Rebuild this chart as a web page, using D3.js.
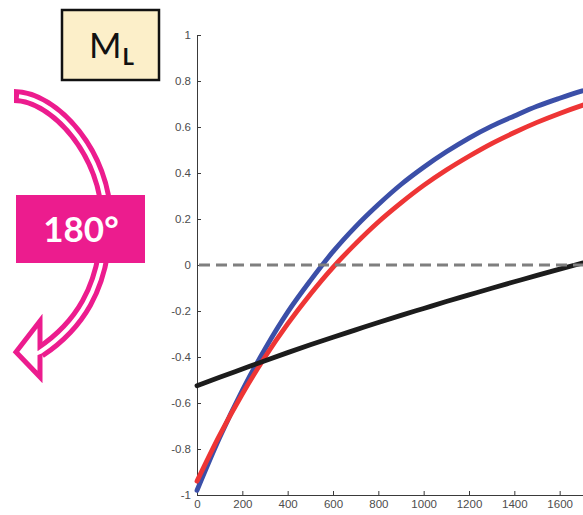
<!DOCTYPE html>
<html>
<head>
<meta charset="utf-8">
<script src="https://cdn.jsdelivr.net/npm/d3@7"></script>
<style>
  html, body { margin: 0; padding: 0; background: #fff; overflow: hidden; }
  svg { display: block; }
</style>
</head>
<body>
<svg id="chart" width="583" height="515"></svg>
<script>
// values
var xs        = [0, 100, 200, 300, 400, 500, 600, 700, 800, 900, 1000, 1100, 1200, 1300, 1400, 1500, 1600, 1700, 1800];
var blueVals  = [-0.98, -0.75, -0.545, -0.365, -0.205, -0.068, 0.058, 0.167, 0.263, 0.35, 0.425, 0.492, 0.552, 0.604, 0.648, 0.69, 0.725, 0.757, 0.785];
var redVals   = [-0.94, -0.74, -0.561, -0.40, -0.256, -0.127, -0.01, 0.093, 0.187, 0.27, 0.346, 0.413, 0.473, 0.528, 0.576, 0.62, 0.659, 0.694, 0.726];
var blackVals = [-0.525, -0.488, -0.452, -0.416, -0.381, -0.347, -0.314, -0.282, -0.25, -0.219, -0.189, -0.159, -0.13, -0.101, -0.073, -0.045, -0.018, 0.008, 0.034];
var xTicks = [0, 200, 400, 600, 800, 1000, 1200, 1400, 1600];
var yTicks = [-1, -0.8, -0.6, -0.4, -0.2, 0, 0.2, 0.4, 0.6, 0.8, 1];
var boxLabel = "M";
var boxSub = "L";
var turnLabel = "180°";

var svg = d3.select("#chart");

var x = d3.scaleLinear().domain([0, 1800]).range([197, 605]);
var y = d3.scaleLinear().domain([-1, 1]).range([495, 35]);

var defs = svg.append("defs");
defs.append("filter")
    .attr("id", "blur")
    .attr("x", "-10%").attr("y", "-300%")
    .attr("width", "120%").attr("height", "700%")
    .append("feGaussianBlur")
    .attr("stdDeviation", 4.5);

// ---- left decorations ----
var box = svg.append("g");
box.append("rect")
    .attr("x", 62).attr("y", 10)
    .attr("width", 97).attr("height", 70)
    .attr("fill", "#fcefc9")
    .attr("stroke", "#111")
    .attr("stroke-width", 2.5);
var ml = box.append("text")
    .attr("x", 89).attr("y", 58)
    .attr("font-family", "Lato, 'Open Sans', sans-serif")
    .attr("font-size", "35px")
    .attr("fill", "#111");
ml.append("tspan").text(boxLabel);
ml.append("tspan")
    .attr("dx", 1).attr("dy", 7)
    .attr("font-size", "22px")
    .attr("font-weight", "bold")
    .text(boxSub);

var pink = "#ec1c8e";
var arrowPath = "M14,96 C55,96 106,155 106,218 C106,290 76,328 40,352";

var arrow = svg.append("g");
arrow.append("path")
    .attr("d", arrowPath)
    .attr("fill", "none")
    .attr("stroke", pink)
    .attr("stroke-width", 14);
arrow.append("polygon")
    .attr("points", "16,352 40,321 40,377")
    .attr("fill", "#fff")
    .attr("stroke", pink)
    .attr("stroke-width", 5)
    .attr("stroke-linejoin", "miter");
arrow.append("path")
    .attr("d", arrowPath + " L30,356")
    .attr("fill", "none")
    .attr("stroke", "#fff")
    .attr("stroke-width", 4)
    .attr("stroke-dasharray", "0 5 2000");

svg.append("rect")
    .attr("x", 16).attr("y", 195)
    .attr("width", 129).attr("height", 68)
    .attr("fill", pink);
svg.append("text")
    .attr("x", 81).attr("y", 242)
    .attr("text-anchor", "middle")
    .attr("font-family", "Lato, 'Open Sans', sans-serif")
    .attr("font-weight", "bold")
    .attr("font-size", "35px")
    .attr("fill", "#fff")
    .text(turnLabel);

// ---- axes ----
var fmt = function(d) { return d === 0 ? "0" : String(+d.toFixed(1)); };

var yAxis = svg.append("g")
    .attr("transform", "translate(197,0)")
    .call(d3.axisLeft(y).tickValues(yTicks).tickSizeInner(-4).tickSizeOuter(0).tickPadding(6).tickFormat(fmt));
var xAxis = svg.append("g")
    .attr("transform", "translate(0,495)")
    .call(d3.axisBottom(x).tickValues(xTicks).tickSizeInner(-4).tickSizeOuter(0).tickPadding(5).tickFormat(fmt));

[yAxis, xAxis].forEach(function(a) {
    a.select(".domain").attr("stroke", "#3a3a3a");
    a.selectAll(".tick line").attr("stroke", "#3a3a3a");
    a.selectAll("text")
        .attr("font-family", "'Liberation Sans', Arial, sans-serif")
        .attr("font-size", "11.5px")
        .attr("fill", "#4d4d4d");
});

// ---- curves ----
var line = d3.line()
    .x(function(d, i) { return x(xs[i]); })
    .y(function(d) { return y(d); })
    .curve(d3.curveMonotoneX);

var series = [
    { vals: blueVals, color: "#3b4fa8" },
    { vals: redVals, color: "#ee3535" },
    { vals: blackVals, color: "#1c1c1c" }
];

svg.append("g").selectAll("path")
    .data(series)
    .enter().append("path")
    .attr("d", function(d) { return line(d.vals); })
    .attr("fill", "none")
    .attr("stroke", function(d) { return d.color; })
    .attr("stroke-width", 4.8)
    .attr("stroke-linecap", "round");

// zero line with its soft shadow
svg.append("line")
    .attr("x1", 194).attr("x2", 600)
    .attr("y1", y(0)).attr("y2", y(0))
    .attr("stroke", "#bdbdbd")
    .attr("stroke-width", 8)
    .attr("opacity", 0.6)
    .attr("filter", "url(#blur)");
svg.append("line")
    .attr("x1", 199).attr("x2", 600)
    .attr("y1", y(0)).attr("y2", y(0))
    .attr("stroke", "#7f7f7f")
    .attr("stroke-width", 3)
    .attr("stroke-dasharray", "11,6");
</script>
</body>
</html>
